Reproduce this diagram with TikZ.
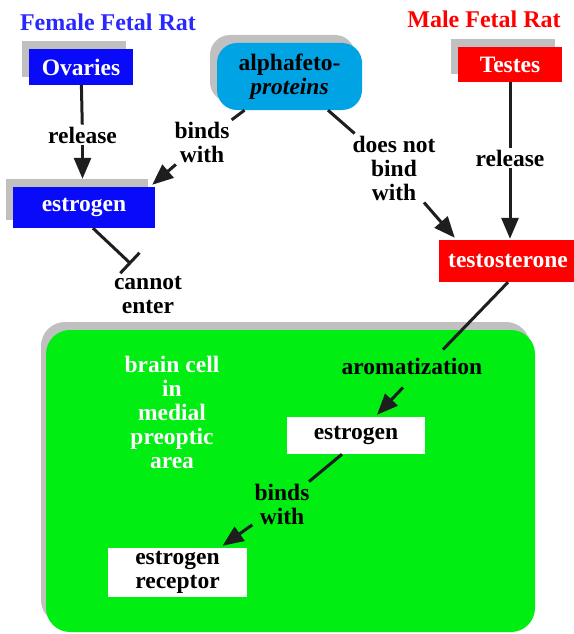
\documentclass[tikz,border=0pt]{standalone}
\usepackage{fontspec}
\setmainfont{Liberation Serif}
\usetikzlibrary{arrows.meta,shadows}
\definecolor{fblue}{RGB}{10,10,250}
\definecolor{tblue}{RGB}{40,40,255}
\definecolor{fred}{RGB}{255,0,0}
\definecolor{fcyan}{RGB}{0,163,228}
\definecolor{fgreen}{RGB}{0,238,17}
\definecolor{shadgray}{RGB}{192,192,192}
\definecolor{linec}{RGB}{30,30,30}
\begin{document}
\begin{tikzpicture}[x=1pt,y=-1pt,
  lab/.style={font=\fontsize{23.5}{24}\selectfont\bfseries, align=center, inner sep=2pt},
  box/.style={lab, inner sep=0pt},
  shad/.style={drop shadow={shadow xshift=-7pt, shadow yshift=8pt, fill=shadgray, opacity=1}},
  conn/.style={line width=3pt, draw=linec},
  arr/.style={conn, -{Triangle[length=21pt,width=17pt]}},
  inh/.style={conn, -{Bar[width=28pt,line width=3pt]}}]
\useasboundingbox (0,0) rectangle (573,634);

% titles
\node[lab, text=tblue, font=\fontsize{24}{24}\selectfont\bfseries] (ftitle) at (108,22) {Female Fetal Rat};
\node[lab, text=fred, font=\fontsize{24}{24}\selectfont\bfseries] (mtitle) at (484,19) {Male Fetal Rat};

% brain cell
\node[fill=fgreen, rounded corners=24pt, minimum width=489pt, minimum height=302pt, inner sep=0pt,
  drop shadow={shadow xshift=-5pt, shadow yshift=8pt, fill=shadgray, opacity=1}] (cell) at (290.5,481) {};

% boxes
\node[box, shad, fill=fblue, text=white, minimum width=104pt, minimum height=36pt] (ovaries) at (81,67) {Ovaries};
\node[box, shad, fill=fblue, text=white, minimum width=142pt, minimum height=41pt] (estrF) at (84,207.5) {estrogen};
\node[box, shad, fill=fcyan, text=black, rounded corners=20pt, minimum width=145pt, minimum height=67pt] (alpha) at (289.5,76.5) {alphafeto-\\\textit{proteins}};
\node[box, shad, fill=fred, text=white, minimum width=104pt, minimum height=35pt] (testes) at (510,64.5) {Testes};
\node[box, fill=fred, text=white, minimum width=138pt, minimum height=42pt] (testo) at (508,261) {testosterone};
\node[box, fill=white, text=black, minimum width=138pt, minimum height=37pt] (estrW) at (356,435.5) {estrogen};
\node[box, fill=white, text=black, minimum width=139pt, minimum height=49pt] (recep) at (177.5,572.5) {estrogen\\receptor};

% labels
\node[lab] (rel1) at (82.5,135) {release};
\node[lab] (rel2) at (510,158) {release};
\node[lab] (bw1) at (202,142) {binds\\with};
\node[lab] (dnb) at (394,168) {does not\\bind\\with};
\node[lab] (cannot) at (148,295) {cannot\\enter};
\node[lab] (arom) at (412,366) {aromatization};
\node[lab, text=white] (brain) at (172,412) {brain cell\\in\\medial\\preoptic\\area};
\node[lab] (bw2) at (282,504) {binds\\with};
\coordinate (block) at (131,264);

% connectors
\draw[conn] (ovaries) -- (rel1);
\draw[arr] (rel1) -- ([yshift=8pt]rel1 |- estrF.north);
\draw[conn] (testes) -- (rel2);
\draw[arr] (rel2) -- ([yshift=1pt]rel2 |- testo.north);
\draw[conn] (alpha) -- (bw1);
\draw[arr] (bw1) -- ([xshift=-3pt,yshift=2pt]estrF.north east);
\draw[conn] (alpha) -- (dnb);
\draw[arr] (dnb) -- ([xshift=16pt,yshift=2pt]testo.north west);
\draw[inh] ([xshift=9pt]estrF.south) -- (block);
\draw[conn] (testo.south) -- ([xshift=31pt,yshift=6pt]arom.north);
\draw[arr] ([xshift=-9pt,yshift=-11pt]arom.south) -- ([xshift=21pt,yshift=2pt]estrW.north);
\draw[conn] ([xshift=-14pt]estrW.south) -- (bw2);
\draw[arr] (bw2) -- ([xshift=45pt,yshift=2pt]recep.north);
\end{tikzpicture}
\end{document}
